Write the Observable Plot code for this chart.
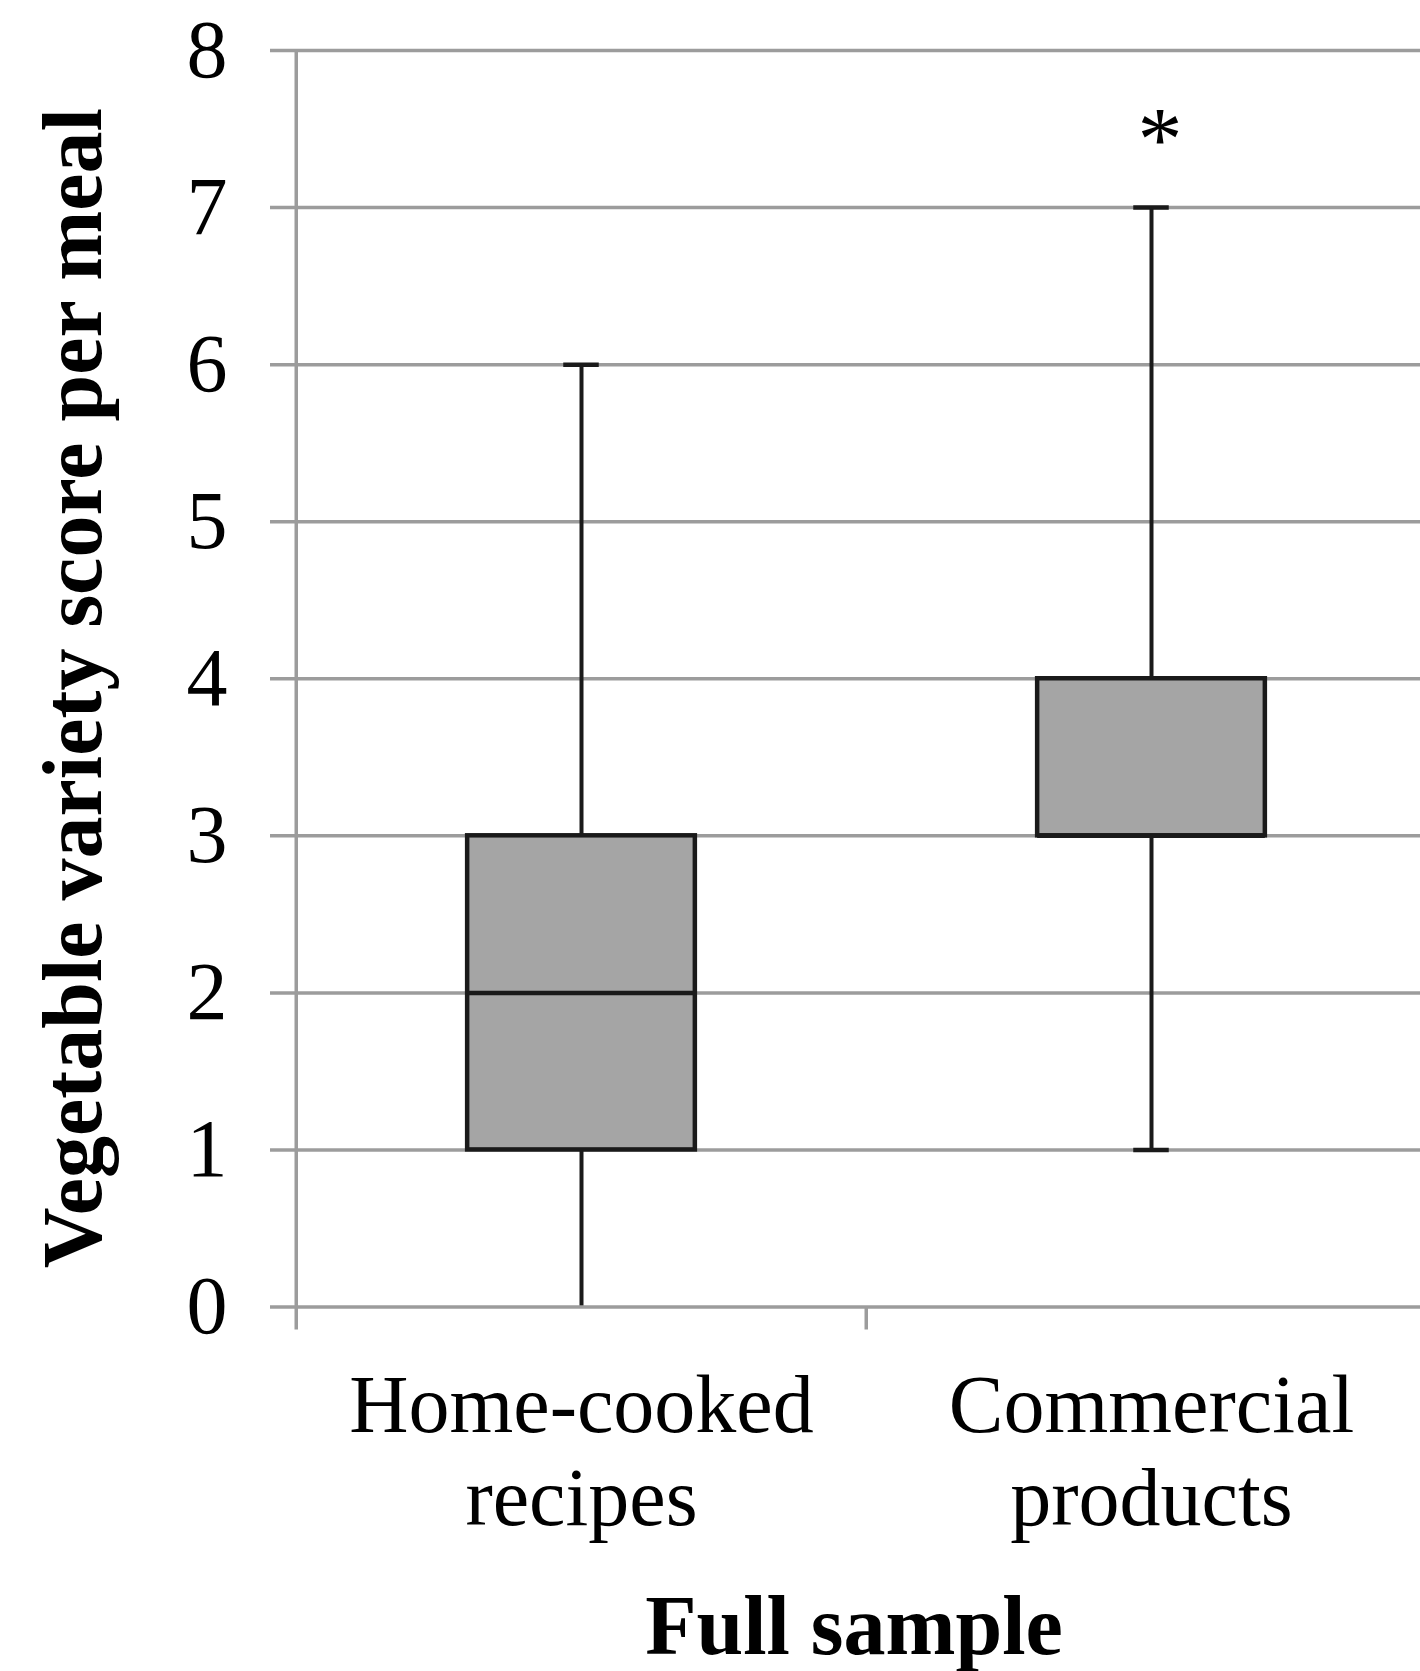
<!DOCTYPE html>
<html>
<head>
<meta charset="utf-8">
<script src="https://cdn.jsdelivr.net/npm/d3@7"></script>
<script src="https://cdn.jsdelivr.net/npm/@observablehq/plot@0.6"></script>
<style>
  html, body { margin: 0; padding: 0; background: #ffffff; }
  #chart svg { display: block; }
</style>
</head>
<body>
<div id="chart"></div>
<script>
// ---- Data ----
const categories = ["Home-cooked recipes", "Commercial products"];
const whiskerLow = [0, 1];
const quartile1 = [1, 3];
const medians = [2, 3];
const quartile3 = [3, 4];
const whiskerHigh = [6, 7];
const significanceMark = ["", "*"];
const yTicks = [0, 1, 2, 3, 4, 5, 6, 7, 8];
const xTitle = "Full sample";
const yTitle = "Vegetable variety score per meal";

const rows = categories.map((c, i) => ({
  category: c,
  lo: whiskerLow[i],
  q1: quartile1[i],
  med: medians[i],
  q3: quartile3[i],
  hi: whiskerHigh[i],
  mark: significanceMark[i]
}));

// ---- Layout ----
const W = 1420, H = 1671;
const mL = 295, mR = -16, mT = 50, mB = 364.5;
const band = (W - mL - mR) / categories.length;
const boxInset = band * 0.3;
const capInset = (band - 36) / 2;

const serif = "'Liberation Serif', 'Times New Roman', Times, serif";
const gridColor = "#9c9c9c";
const ink = "#1a1a1a";

const chart = Plot.plot({
  width: W,
  height: H,
  marginLeft: mL,
  marginRight: mR,
  marginTop: mT,
  marginBottom: mB,
  style: { fontFamily: serif, background: "#ffffff", color: "#000" },
  x: { type: "band", domain: categories, padding: 0, axis: null },
  y: { domain: [0, 8], axis: null },
  marks: [
    // horizontal gridlines (with stubs extending left of the axis)
    Plot.ruleY(yTicks.filter(d => d !== 0), { y: d => d, stroke: gridColor, strokeWidth: 3.5, insetLeft: -25 }),
    // whiskers
    Plot.ruleX(rows, { x: "category", y1: "lo", y2: "hi", stroke: ink, strokeWidth: 4 }),
    // whisker caps (the cap sitting on the axis is hidden by the axis line)
    Plot.tickY(rows, { x: "category", y: "hi", stroke: ink, strokeWidth: 4.5, insetLeft: capInset, insetRight: capInset }),
    Plot.tickY(rows.filter(r => r.lo > 0), { x: "category", y: "lo", stroke: ink, strokeWidth: 4.5, insetLeft: capInset, insetRight: capInset }),
    // boxes
    Plot.barY(rows, { x: "category", y1: "q1", y2: "q3", fill: "#a5a5a5", stroke: ink, strokeWidth: 4.5, insetLeft: boxInset, insetRight: boxInset }),
    // medians
    Plot.tickY(rows, { x: "category", y: "med", stroke: ink, strokeWidth: 4.5, insetLeft: boxInset, insetRight: boxInset }),
    // x axis line (zero gridline) drawn on top
    Plot.ruleY([0], { y: d => d, stroke: gridColor, strokeWidth: 3.5, insetLeft: -25 }),
    // y axis line, extending below the zero line
    Plot.ruleX([categories[0]], { x: d => d, dx: -band / 2, stroke: gridColor, strokeWidth: 3.5, insetBottom: -23 }),
    // category boundary tick marks below the axis
    Plot.ruleX(categories.slice(1), { x: d => d, dx: -band / 2, y1: 0, y2: 0, stroke: gridColor, strokeWidth: 3.5, insetBottom: -23 }),
    // y tick labels
    Plot.text(yTicks, { y: d => d, text: d => String(d), frameAnchor: "left", textAnchor: "end", lineAnchor: "middle", dx: -68, fontSize: 82, fontFamily: serif, fill: "#000" }),
    // x tick labels (two lines)
    Plot.text(categories, { x: d => d, text: d => d.replace(" ", "\n"), frameAnchor: "bottom", textAnchor: "middle", lineAnchor: "bottom", lineHeight: 1.13, dy: 217.5, fontSize: 82, fontFamily: serif, fill: "#000" }),
    // significance asterisk
    Plot.text(rows.filter(r => r.mark), { x: "category", y: "hi", text: "mark", textAnchor: "middle", lineAnchor: "bottom", dx: 8.5, dy: -38, fontSize: 90, fontFamily: serif, fill: "#000" }),
    // x axis title
    Plot.text([xTitle], { text: d => d, frameAnchor: "bottom", textAnchor: "middle", lineAnchor: "bottom", dx: -12, dy: 346.5, fontSize: 84, fontWeight: "bold", fontFamily: serif, fill: "#000" }),
    // y axis title
    Plot.text([yTitle], { text: d => d, frameAnchor: "left", textAnchor: "middle", rotate: -90, lineAnchor: "bottom", dx: -195, dy: 9.5, fontSize: 84, fontWeight: "bold", fontFamily: serif, fill: "#000" })
  ]
});

document.getElementById("chart").appendChild(chart);
</script>
</body>
</html>
